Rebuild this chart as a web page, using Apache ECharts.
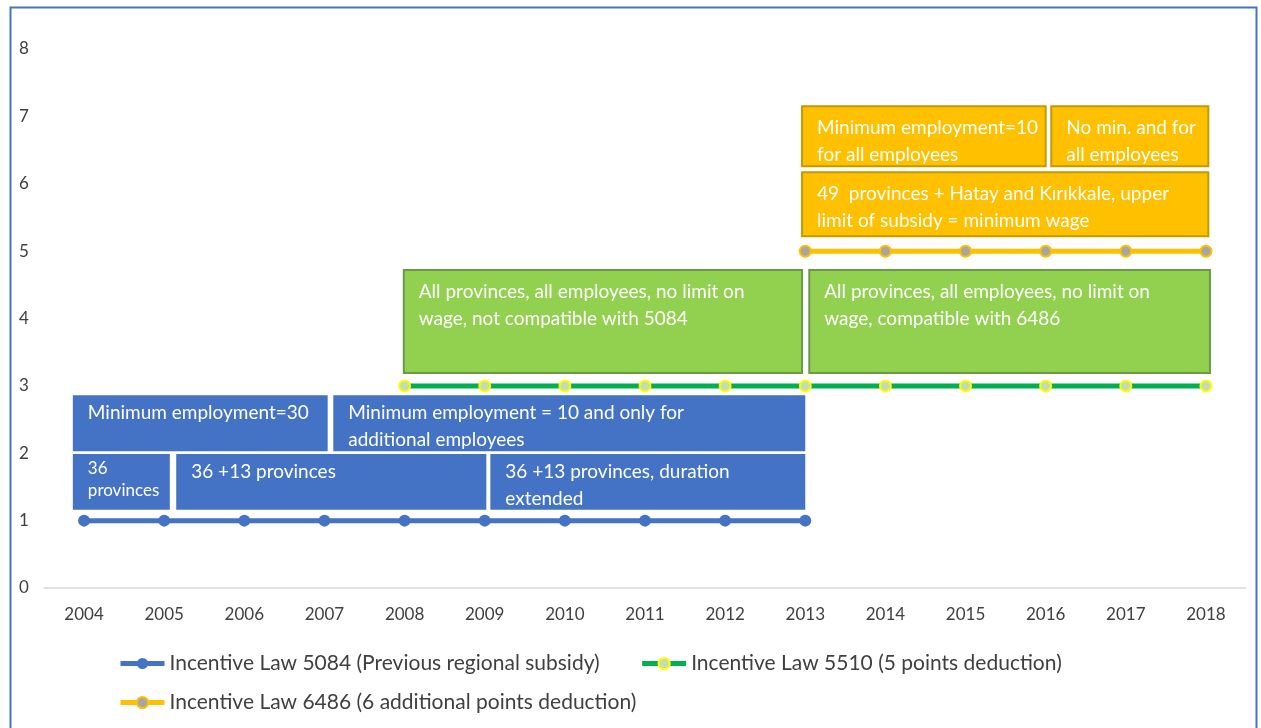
<!DOCTYPE html>
<html>
<head>
<meta charset="utf-8">
<script src="https://cdn.jsdelivr.net/npm/echarts@6/dist/echarts.min.js"></script>
<style>
  html, body { margin: 0; padding: 0; background: #fff; }
  #chart { width: 1261px; height: 728px; }
</style>
</head>
<body>
<div id="chart"></div>
<script>
// data
var years = ['2004', '2005', '2006', '2007', '2008', '2009', '2010', '2011', '2012', '2013', '2014', '2015', '2016', '2017', '2018'];
var law5084 = [1, 1, 1, 1, 1, 1, 1, 1, 1, 1, null, null, null, null, null];
var law5510 = [null, null, null, null, 3, 3, 3, 3, 3, 3, 3, 3, 3, 3, 3];
var law6486 = [null, null, null, null, null, null, null, null, null, 5, 5, 5, 5, 5, 5];
var seriesNames = [
    'Incentive Law 5084 (Previous regional subsidy)',
    'Incentive Law 5510 (5 points deduction)',
    'Incentive Law 6486 (6 additional points deduction)'
];
// text boxes: [from year, to year, bottom, top, law group]
var boxSpans = [
    [2003.86, 2005.07, 1.16, 1.99, 0],
    [2005.15, 2009.02, 1.16, 1.99, 0],
    [2009.07, 2013.0, 1.16, 1.99, 0],
    [2003.86, 2007.04, 2.03, 2.86, 0],
    [2007.11, 2013.0, 2.03, 2.86, 0],
    [2007.99, 2012.96, 3.19, 4.72, 1],
    [2013.05, 2018.05, 3.19, 4.72, 1],
    [2012.96, 2018.03, 5.22, 6.17, 2],
    [2012.96, 2016.0, 6.26, 7.15, 2],
    [2016.07, 2018.03, 6.26, 7.15, 2]
];
var boxTexts = [
    '36\nprovinces',
    '36 +13 provinces',
    '36 +13 provinces, duration\nextended',
    'Minimum employment=30',
    'Minimum employment = 10 and only for\nadditional employees',
    'All provinces, all employees, no limit on\nwage, not compatible with 5084',
    'All provinces, all employees, no limit on\nwage, compatible with 6486',
    '49  provinces + Hatay and Kırıkkale, upper\nlimit of subsidy = minimum wage',
    'Minimum employment=10\nfor all employees',
    'No min. and for\nall employees'
];

var myChart = echarts.init(document.getElementById('chart'));

var boxFill = ['#4472C4', '#92D050', '#FFC000'];
var boxStroke = [null, '#6B9A45', '#C49A00'];
var font = 'Lato, "Open Sans", sans-serif';

var boxData = boxSpans.map(function (b, i) {
    return [b[0], b[1], b[2], b[3], b[4], i];
});

function renderBox(params, api) {
    var g = api.value(4);
    var idx = api.value(5);
    var p0 = api.coord([api.value(0), api.value(3)]);
    var p1 = api.coord([api.value(1), api.value(2)]);
    var small = idx === 0;
    var stroke = boxStroke[g];
    return {
        type: 'group',
        children: [
            {
                type: 'rect',
                shape: { x: p0[0], y: p0[1], width: p1[0] - p0[0], height: p1[1] - p0[1] },
                style: {
                    fill: boxFill[g],
                    stroke: stroke || null,
                    lineWidth: stroke ? 2 : 0
                }
            },
            {
                type: 'text',
                x: p0[0] + 15,
                y: p0[1] + (g === 0 ? 4 : 8),
                style: {
                    text: boxTexts[idx],
                    fill: '#fff',
                    font: (small ? '17px ' : '19px ') + font,
                    lineHeight: small ? 22 : 27,
                    align: 'left',
                    verticalAlign: 'top'
                }
            }
        ]
    };
}

var option = {
    animation: false,
    graphic: [
        {
            type: 'rect',
            left: 8,
            top: 5,
            shape: { width: 1246, height: 740 },
            style: { fill: 'none', stroke: '#4472C4', lineWidth: 2 }
        }
    ],
    grid: {
        left: 44,
        right: 15,
        top: 49,
        bottom: 140
    },
    legend: [
        {
            data: [seriesNames[0], seriesNames[1]],
            left: 113,
            top: 648,
            itemWidth: 44,
            itemHeight: 14,
            itemGap: 40,
            lineStyle: { width: 5 },
            textStyle: { color: '#404040', fontSize: 21, fontFamily: font }
        },
        {
            data: [seriesNames[2]],
            left: 113,
            top: 687,
            itemWidth: 44,
            itemHeight: 14,
            lineStyle: { width: 5 },
            textStyle: { color: '#404040', fontSize: 21, fontFamily: font }
        }
    ],
    xAxis: [
        {
            type: 'category',
            data: years,
            boundaryGap: true,
            axisLine: { lineStyle: { color: '#d9d9d9', width: 1.5 } },
            axisTick: { show: false },
            axisLabel: { color: '#404040', fontSize: 17, fontFamily: font, margin: 18 }
        },
        {
            type: 'value',
            min: 2003.5,
            max: 2018.5,
            show: false
        }
    ],
    yAxis: {
        type: 'value',
        min: 0,
        max: 8,
        interval: 1,
        axisLine: { show: false },
        axisTick: { show: false },
        splitLine: { show: false },
        axisLabel: { color: '#404040', fontSize: 17, fontFamily: font, margin: 25, align: 'left' }
    },
    series: [
        {
            name: 'boxes',
            type: 'custom',
            xAxisIndex: 1,
            renderItem: renderBox,
            data: boxData,
            silent: true,
            z: 1
        },
        {
            name: seriesNames[0],
            type: 'line',
            data: law5084,
            symbol: 'circle',
            symbolSize: 12,
            lineStyle: { color: '#4472C4', width: 5 },
            itemStyle: { color: '#4472C4' },
            z: 3
        },
        {
            name: seriesNames[1],
            type: 'line',
            data: law5510,
            symbol: 'circle',
            symbolSize: 11,
            lineStyle: { color: '#00B050', width: 5 },
            itemStyle: { color: '#C5DBB4', borderColor: '#FFFF00', borderWidth: 2 },
            z: 3
        },
        {
            name: seriesNames[2],
            type: 'line',
            data: law6486,
            symbol: 'circle',
            symbolSize: 11,
            lineStyle: { color: '#FFC000', width: 5 },
            itemStyle: { color: '#A5A5A5', borderColor: '#FFC000', borderWidth: 2 },
            z: 3
        }
    ]
};

myChart.setOption(option);

window.addEventListener('resize', function () {
    myChart.resize();
});
</script>
</body>
</html>
